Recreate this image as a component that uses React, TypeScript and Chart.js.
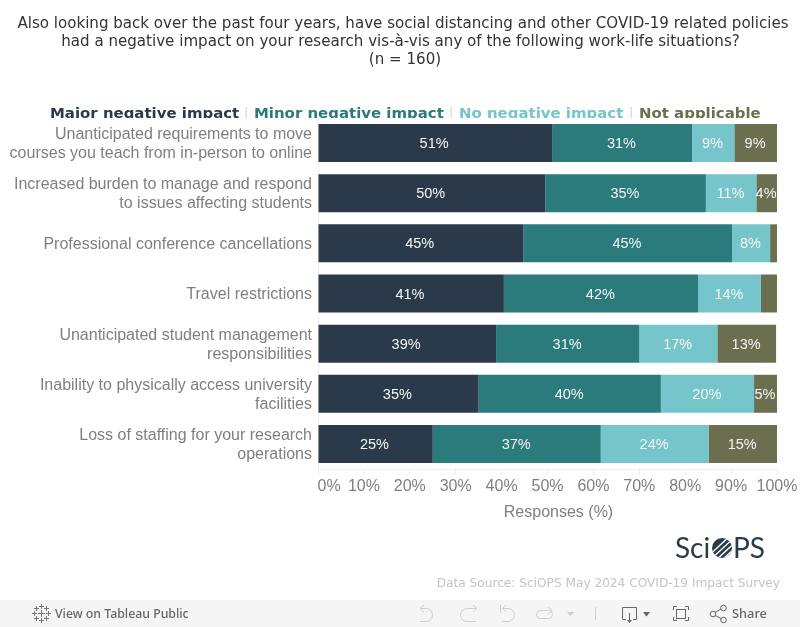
import React, { useEffect, useRef } from "react";
import { Chart, registerables } from "chart.js";

Chart.register(...registerables);

const categories = [
  ["Unanticipated requirements to move", "courses you teach from in-person to online"],
  ["Increased burden to manage and respond", "to issues affecting students"],
  ["Professional conference cancellations"],
  ["Travel restrictions"],
  ["Unanticipated student management", "responsibilities"],
  ["Inability to physically access university", "facilities"],
  ["Loss of staffing for your research", "operations"],
];
const majorValues = [51, 49.5, 44.7, 40.5, 38.8, 35, 25];
const minorValues = [30.5, 35, 45.5, 42.3, 31.2, 39.7, 36.6];
const noneValues = [9.2, 11, 8.3, 13.7, 17, 20.3, 23.5];
const naValues = [9.3, 4.5, 1.5, 3.5, 12.8, 5, 14.9];
const majorLabels = ["51%", "50%", "45%", "41%", "39%", "35%", "25%"];
const minorLabels = ["31%", "35%", "45%", "42%", "31%", "40%", "37%"];
const noneLabels = ["9%", "11%", "8%", "14%", "17%", "20%", "24%"];
const naLabels = ["9%", "4%", "", "", "13%", "5%", "15%"];
const seriesNames = ["Major negative impact", "Minor negative impact", "No negative impact", "Not applicable"];
const seriesColors = ["#2b3a4b", "#2b7a7c", "#76c5ca", "#6b6e4f"];
const legendX = [50, 254, 459, 639];
const legendSeparatorX = [246, 451, 631];
const titleLines = [
  "Also looking back over the past four years, have social distancing and other COVID-19 related policies",
  "had a negative impact on your research vis-à-vis any of the following work-life situations?",
  "(n = 160)",
];
const titleCentres = [403, 400.5, 405];
const axisTitle = "Responses (%)";
const sourceText = "Data Source: SciOPS May 2024 COVID-19 Impact Survey";

const SANS = '"Liberation Sans", Arial, sans-serif';
const DEJAVU = '"DejaVu Sans", sans-serif';
const GREY = "#7f7f7f";

function line(c: CanvasRenderingContext2D, pts: number[][], close = false) {
  c.beginPath();
  pts.forEach((p, i) => (i ? c.lineTo(p[0], p[1]) : c.moveTo(p[0], p[1])));
  if (close) c.closePath();
  c.stroke();
}
function tri(c: CanvasRenderingContext2D, x: number, y: number, w: number, h: number, col: string) {
  c.fillStyle = col;
  c.beginPath();
  c.moveTo(x, y);
  c.lineTo(x + w, y);
  c.lineTo(x + w / 2, y + h);
  c.closePath();
  c.fill();
}

function drawToolbar(c: CanvasRenderingContext2D) {
  c.fillStyle = "#f5f5f5";
  c.fillRect(0, 600, 800, 27);
  c.textAlign = "left";
  c.textBaseline = "alphabetic";
  c.fillStyle = "#666666";
  c.font = '500 12.3px "Noto Sans", sans-serif';
  c.fillText("View on Tableau Public", 55, 618);
  c.font = '500 12.8px "Noto Sans", sans-serif';
  c.fillText("Share", 732, 618);

  // Tableau mark
  c.strokeStyle = "#777777";
  c.lineWidth = 1;
  const marks = [[41, 613, 3], [34, 613, 2], [48, 613, 2], [41, 606, 2], [41, 620, 2], [36, 608, 2], [46, 608, 2], [36, 618, 2], [46, 618, 2]];
  marks.forEach(([x, y, r]) => {
    line(c, [[x - r, y + 0.5], [x + r + 1, y + 0.5]]);
    line(c, [[x + 0.5, y - r], [x + 0.5, y + r + 1]]);
  });

  // Undo, redo, revert, refresh
  c.strokeStyle = "#cfcfcf";
  c.beginPath();
  c.moveTo(421, 608.5);
  c.lineTo(426, 608.5);
  c.arc(426, 615, 6.5, -Math.PI / 2, Math.PI / 2);
  c.lineTo(420, 621.5);
  c.stroke();
  line(c, [[424, 605], [420, 608.5], [424, 612]]);
  c.beginPath();
  c.moveTo(476, 608.5);
  c.lineTo(467, 608.5);
  c.arc(467, 615, 6.5, -Math.PI / 2, Math.PI / 2, true);
  c.lineTo(476, 621.5);
  c.stroke();
  line(c, [[473, 605], [477, 608.5], [473, 612]]);
  c.beginPath();
  c.moveTo(503, 608.5);
  c.lineTo(508, 608.5);
  c.arc(508, 615, 6.5, -Math.PI / 2, Math.PI / 2);
  c.lineTo(502, 621.5);
  c.stroke();
  line(c, [[500.5, 605], [500.5, 613]]);
  line(c, [[506, 605], [502.5, 608.5], [506, 612]]);
  c.beginPath();
  c.roundRect(536.5, 610.5, 16, 8, 4);
  c.stroke();
  line(c, [[548, 607], [552, 610.5], [548, 614]]);
  tri(c, 567, 612, 7, 4.5, "#cfcfcf");
  line(c, [[595.5, 607], [595.5, 620]]);

  // Download
  c.strokeStyle = "#666666";
  line(c, [[626, 619.5], [622.5, 619.5], [622.5, 607.5], [636.5, 607.5], [636.5, 619.5], [633, 619.5]]);
  line(c, [[629.5, 613], [629.5, 621]]);
  tri(c, 627, 620, 5, 3, "#666666");
  tri(c, 643, 612, 7, 4.5, "#666666");

  // Full screen
  c.strokeRect(676.5, 609.5, 9, 9);
  line(c, [[673.5, 610], [673.5, 606.5], [677, 606.5]]);
  line(c, [[685, 606.5], [688.5, 606.5], [688.5, 610]]);
  line(c, [[673.5, 617], [673.5, 620.5], [677, 620.5]]);
  line(c, [[685, 620.5], [688.5, 620.5], [688.5, 617]]);

  // Share
  line(c, [[715, 612.5], [721, 609]]);
  line(c, [[715, 615.5], [721, 618.5]]);
  [[713, 614], [723.5, 608], [723.5, 620]].forEach(([x, y]) => {
    c.beginPath();
    c.arc(x, y, 2.8, 0, Math.PI * 2);
    c.stroke();
  });
}

function drawLogo(c: CanvasRenderingContext2D) {
  const col = "#2b3a4b";
  c.fillStyle = col;
  c.textAlign = "left";
  c.textBaseline = "alphabetic";
  c.font = '28px Lato, sans-serif';
  c.fillText("Sci", 675, 558);
  c.fillText("PS", 733, 558);
  c.save();
  c.beginPath();
  c.arc(722, 548, 10, 0, Math.PI * 2);
  c.clip();
  c.fillRect(711, 537, 22, 22);
  c.strokeStyle = "#ffffff";
  c.lineWidth = 1.4;
  for (let k = 0; k < 6; k++) {
    const d = 700 + k * 6 + 18;
    line(c, [[d - 16, 562], [d + 14, 534]]);
  }
  c.restore();
}

const decorPlugin = {
  id: "decor",
  afterDatasetsDraw(chart: any) {
    const c: CanvasRenderingContext2D = chart.ctx;
    c.save();
    // value labels
    const labelSets = [majorLabels, minorLabels, noneLabels, naLabels];
    c.font = `14.5px ${SANS}`;
    c.textAlign = "center";
    c.textBaseline = "middle";
    c.fillStyle = "#f4f6f6";
    labelSets.forEach((labels, ds) => {
      chart.getDatasetMeta(ds).data.forEach((bar: any, i: number) => {
        if (labels[i]) c.fillText(labels[i], (bar.base + bar.x) / 2 - (ds === 0 ? 1.2 : 0.6), bar.y + 1);
      });
    });
    c.restore();
  },
  afterDraw(chart: any) {
    const c: CanvasRenderingContext2D = chart.ctx;
    c.save();
    // title
    c.fillStyle = "#333333";
    c.textAlign = "center";
    c.textBaseline = "middle";
    c.font = `15.08px ${DEJAVU}`;
    titleLines.forEach((t, i) => c.fillText(t, titleCentres[i], 24 + i * 18));

    // legend, cut off at its foot as in the original
    c.save();
    c.beginPath();
    c.rect(0, 100, 800, 18);
    c.clip();
    c.font = `bold 14.95px ${DEJAVU}`;
    c.textAlign = "left";
    c.textBaseline = "alphabetic";
    seriesNames.forEach((n, i) => {
      c.fillStyle = seriesColors[i];
      c.fillText(n, legendX[i], 118);
    });
    c.fillStyle = "#d4d4d4";
    c.font = `13px ${DEJAVU}`;
    legendSeparatorX.forEach((x) => c.fillText("|", x - 2, 117));
    c.restore();

    // axis title
    c.fillStyle = GREY;
    c.font = `16px ${SANS}`;
    c.textAlign = "center";
    c.textBaseline = "middle";
    c.fillText(axisTitle, 558.5, 512.5);

    drawLogo(c);

    c.fillStyle = "#c4c4c4";
    c.font = `12.15px ${DEJAVU}`;
    c.textAlign = "right";
    c.textBaseline = "middle";
    c.fillText(sourceText, 780, 584);

    drawToolbar(c);
    c.restore();
  },
};

export default function App() {
  const ref = useRef<HTMLCanvasElement>(null);
  useEffect(() => {
    const chart = new Chart(ref.current!, {
      type: "bar",
      data: {
        labels: categories as any,
        datasets: [majorValues, minorValues, noneValues, naValues].map((data, i) => ({
          label: seriesNames[i],
          data,
          backgroundColor: seriesColors[i],
          borderWidth: 0,
          categoryPercentage: 1,
          barPercentage: 38 / 50.14,
        })),
      },
      options: {
        indexAxis: "y",
        responsive: false,
        animation: false,
        layout: { padding: { top: 118, right: 23, left: 0, bottom: 0 } },
        plugins: { legend: { display: false }, title: { display: false }, tooltip: { enabled: false } },
        scales: {
          x: {
            stacked: true,
            min: 0,
            max: 100,
            afterFit: (s: any) => { s.height = 158; },
            border: { color: "#eeeeee" },
            grid: { drawOnChartArea: false, color: "#eeeeee", tickLength: 6 },
            ticks: {
              stepSize: 10,
              autoSkip: false,
              maxRotation: 0,
              padding: 2,
              color: GREY,
              font: { family: SANS, size: 16 },
              callback: (v: any) => (v === 0 ? "     0%" : `${v}%`),
            },
          },
          y: {
            stacked: true,
            afterFit: (s: any) => { s.width = 318; },
            border: { color: "#eeeeee" },
            grid: { display: false, drawTicks: false },
            ticks: {
              autoSkip: false,
              padding: 6,
              color: GREY,
              font: { family: SANS, size: 16, lineHeight: 19 / 16 },
              labelOffset: 1,
            },
          },
        },
      },
      plugins: [decorPlugin],
    } as any);
    return () => chart.destroy();
  }, []);
  return (
    <div style={{ position: "fixed", left: 0, top: 0, width: 800, height: 627, background: "#fff" }}>
      <canvas ref={ref} width={800} height={627} style={{ display: "block" }} />
    </div>
  );
}
